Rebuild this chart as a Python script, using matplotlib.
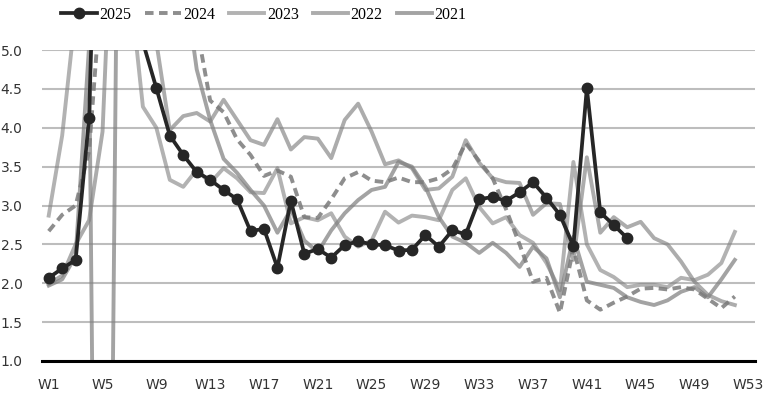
import matplotlib.pyplot as plt
import numpy as np

# weekly values (W1..W52); values above 5 / below 1 run off the axis
weeks = list(range(1, 54))
tick_weeks = list(range(1, 54, 4))
tick_labels = ['W%d' % w for w in tick_weeks]

y2025 = [2.07, 2.19, 2.30, 4.13, 10.0, 10.0, 9.0, 5.10, 4.51, 3.90,
         3.65, 3.43, 3.33, 3.20, 3.08, 2.67, 2.70, 2.20, 3.06, 2.38,
         2.44, 2.33, 2.49, 2.54, 2.50, 2.49, 2.42, 2.43, 2.62, 2.47,
         2.68, 2.63, 3.08, 3.11, 3.06, 3.17, 3.30, 3.10, 2.88, 2.48,
         4.51, 2.91, 2.75, 2.58]

y2024 = [2.67, 2.88, 3.00, 3.70, 6.0, 7.0, 7.0, 7.0, 7.0, 7.0,
         6.5, 5.30, 4.35, 4.20, 3.85, 3.65, 3.38, 3.45, 3.37, 2.85,
         2.84, 3.08, 3.35, 3.43, 3.32, 3.30, 3.36, 3.30, 3.30, 3.35,
         3.47, 3.80, 3.57, 3.35, 2.95, 2.50, 2.02, 2.07, 1.62, 2.45,
         1.78, 1.66, 1.75, 1.83, 1.93, 1.94, 1.92, 1.95, 1.92, 1.80,
         1.68, 1.83]

y2023 = [2.87, 3.90, 5.50, 7.0, 7.0, 7.0, 5.90, 4.27, 4.00, 3.33,
         3.24, 3.46, 3.29, 3.48, 3.35, 3.17, 3.16, 3.48, 2.77, 2.85,
         2.81, 2.90, 2.60, 2.47, 2.55, 2.92, 2.78, 2.87, 2.85, 2.81,
         3.20, 3.35, 2.98, 2.77, 2.85, 2.62, 2.52, 2.26, 1.91, 3.56,
         2.50, 2.17, 2.08, 1.95, 1.98, 1.98, 1.95, 2.07, 2.04, 2.11,
         2.26, 2.66]

y2022 = [1.99, 2.10, 2.50, 2.81, 3.95, 8.0, 8.0, 7.0, 5.10, 3.97,
         4.15, 4.19, 4.08, 4.36, 4.10, 3.84, 3.78, 4.11, 3.72, 3.88,
         3.86, 3.61, 4.10, 4.31, 3.95, 3.53, 3.58, 3.48, 3.20, 3.22,
         3.37, 3.84, 3.55, 3.35, 3.30, 3.29, 2.88, 3.03, 3.02, 2.30,
         3.62, 2.65, 2.85, 2.72, 2.79, 2.58, 2.50, 2.28, 2.02, 1.85,
         1.77, 1.72]

y2021 = [1.97, 2.05, 2.35, 5.05, -13.0, 5.04, 7.0, 7.0, 7.0, 7.0,
         6.0, 4.75, 4.10, 3.60, 3.42, 3.20, 3.00, 2.65, 2.95, 2.55,
         2.40, 2.68, 2.90, 3.07, 3.20, 3.24, 3.56, 3.50, 3.24, 2.85,
         2.60, 2.52, 2.39, 2.52, 2.39, 2.21, 2.47, 2.32, 1.82, 2.60,
         2.02, 1.98, 1.94, 1.82, 1.76, 1.72, 1.78, 1.89, 1.95, 1.82,
         2.05, 2.30]

fig = plt.figure(figsize=(7.71, 3.98), dpi=100)
ax = fig.add_axes([42/771, 1 - 361/398, 713/771, 311/398])

lw = 2.8
ax.plot(weeks[:len(y2023)], y2023, color='#808080', alpha=0.6, lw=lw, label='2023', zorder=2)
ax.plot(weeks[:len(y2022)], y2022, color='#808080', alpha=0.65, lw=lw, label='2022', zorder=2)
ax.plot(weeks[:len(y2021)], y2021, color='#808080', alpha=0.72, lw=lw, label='2021', zorder=2)
ax.plot(weeks[:len(y2024)], y2024, color='#7a7a7a', alpha=0.85, lw=lw,
        linestyle=(0, (2.2, 1.4)), label='2024', zorder=3)
ax.plot(weeks[:len(y2025)], y2025, color='#262626', lw=2.7, marker='o', markersize=7.5,
        label='2025', zorder=4)

ax.set_xlim(0.5, 53.5)
ax.set_ylim(1.0, 5.0)
ax.set_yticks(np.arange(1.0, 5.01, 0.5))
ax.set_yticklabels(['%.1f' % v for v in np.arange(1.0, 5.01, 0.5)])
ax.set_xticks(tick_weeks)
ax.set_xticklabels(tick_labels)
ax.tick_params(axis='both', length=0, labelsize=10, colors='#333333')
ax.tick_params(axis='x', pad=12)
ax.tick_params(axis='y', pad=14)

ax.grid(True, axis='y', color='#bdbdbd', lw=1.5)
ax.set_axisbelow(True)
for s in ['top', 'left', 'right']:
    ax.spines[s].set_visible(False)
ax.spines['bottom'].set_color('black')
ax.spines['bottom'].set_linewidth(2.2)
ax.spines['bottom'].set_zorder(5)

handles, labels = ax.get_legend_handles_labels()
order = ['2025', '2024', '2023', '2022', '2021']
hmap = dict(zip(labels, handles))
fig.legend([hmap[k] for k in order], order, loc='center',
           bbox_to_anchor=(264/771, 1 - 15/398), ncol=5, frameon=False,
           prop={'family': 'Liberation Serif', 'size': 11.5},
           handlelength=2.2, handletextpad=0.15, columnspacing=0.9)

fig.savefig('out.png', dpi=100)
